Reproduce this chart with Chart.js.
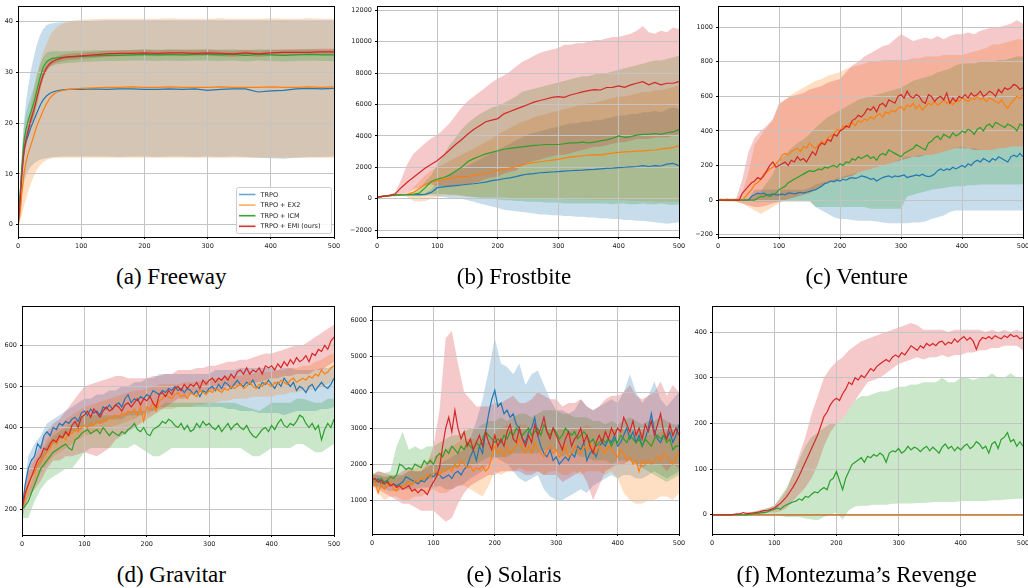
<!DOCTYPE html>
<html><head><meta charset="utf-8">
<script src="https://cdn.jsdelivr.net/npm/chart.js@4.4.1/dist/chart.umd.min.js"></script>
<style>
html,body{margin:0;padding:0;background:#fff;width:1028px;height:588px;overflow:hidden;position:relative;}
canvas{position:absolute;}
.cap{position:absolute;width:342.67px;text-align:center;font-family:"Liberation Serif","Times New Roman",serif;font-size:23px;line-height:23px;color:#000;white-space:nowrap;}
</style></head><body>
<script>
// ---------- shared categories ----------
const SERIES = ['TRPO','TRPO + EX2','TRPO + ICM','TRPO + EMI (ours)'];
const X5 = [0,5,10,15,20,25,30,35,40,45,50,55,60,65,70,75,80,85,90,95,100,105,110,115,120,125,130,135,140,145,150,155,160,165,170,175,180,185,190,195,200,205,210,215,220,225,230,235,240,245,250,255,260,265,270,275,280,285,290,295,300,305,310,315,320,325,330,335,340,345,350,355,360,365,370,375,380,385,390,395,400,405,410,415,420,425,430,435,440,445,450,455,460,465,470,475,480,485,490,495,500];
const X10 = [0,10,20,30,40,50,60,70,80,90,100,110,120,130,140,150,160,170,180,190,200,210,220,230,240,250,260,270,280,290,300,310,320,330,340,350,360,370,380,390,400,410,420,430,440,450,460,470,480,490,500];
const X_A = [0,2,4,6,8,10,13,16,20,25,30,35,40,45,50,55,60,70,80,90,100,120,140,160,180,200,220,240,260,280,300,320,340,360,380,400,420,440,460,480,500];
const X_TICKS = [0,100,200,300,400,500];
const fwTicks = [0,10,20,30,40];
const fbTicks = [-2000,0,2000,4000,6000,8000,10000,12000];
const vnTicks = [-200,0,200,400,600,800,1000];
const gvTicks = [200,300,400,500,600];
const slTicks = [1000,2000,3000,4000,5000,6000];
const mzTicks = [0,100,200,300,400];

// ---------- (a) Freeway ----------
const fwTRPO = [0,3,7,10.5,13,15,16.5,17.5,19,20.5,22,23.5,24.6,25.3,25.8,26.1,26.3,26.5,26.6,26.6,26.6, 26.7,26.6,26.7,26.7,26.6,26.6,26.7,26.6,26.7,26.4,26.6,26.7,26.7,26.1,26.3,26.4,26.7,26.8,26.7,26.8];
const fwEX2 = [0,1,3,6,8.5,10.5,12.5,14,15.5,17.5,19.5,21,22.5,23.8,24.8,25.5,26,26.4,26.6,26.7,26.8, 26.9,27,27,27.1,27,27,27.1,27,27,27,27.1,27,27,27,27.1,27,27,27.1,27,27.1];
const fwICM = [0,3,7,11,14.5,17,19,20.5,22,24,26.5,29,31,32,32.5,32.7,32.8,32.9,33,33,33.1, 33.2,33.3,33.3,33.4,33.5,33.4,33.5,33.4,33.5,33.5,33.4,33.5,33.3,33.5,33.4,33.3,33.4,33.5,33.4,33.4];
const fwEMI = [0,2.5,6,9.5,12.5,15,17,18.5,20.5,22.5,25,27.5,29.5,30.8,31.6,32.1,32.4,32.8,33,33.1,33.2, 33.4,33.6,33.7,33.7,33.8,33.7,33.8,33.8,33.7,33.8,33.7,33.6,33.8,33.6,33.8,33.9,33.9,33.9,34,34];
const fwTRPOlo = [0,1.5,3.5,5.5,7,8.5,9.8,10.6,11.4,12,12.5,12.8,13,13.1,13.2,13.3,13.3,13.4,13.4,13.4,13.4, 13.4,13.4,13.3,13.4,13.4,13.3,13.4,13.4,13.3,13.4,13.3,13.4,13.3,13.2,13.1,13.0,13.2,13.3,13.3,13.4];
const fwTRPOhi = [0,5,10,14,18,21,24.5,27,30,33,35.5,37.3,38.5,39.2,39.5,39.6,39.7,39.8,39.8,39.9,40, 40.1,40.2,40.2,40.2,40.2,40.2,40.2,40.2,40.2,40.2,40.2,40.2,40.2,40.2,40.2,40.2,40.2,40.2,40.2,40.2];
const fwEX2lo = [0,0,1,2,3,4,5,6.5,8,9.5,10.8,11.7,12.3,12.7,13,13.1,13.2,13.2,13.2,13.2,13.2, 13.2,13.2,13.2,13.2,13.2,13.2,13.2,13.2,13.2,13.2,13.2,13.2,13.2,13.2,13.2,13.2,13.2,13.2,13.2,13.2];
const fwEX2hi = [0,2,5,8,11,14,17,20,23,26.5,29.5,32,34,35.5,37,38,38.7,39.5,40,40.2,40.3, 40.4,40.5,40.5,40.5,40.5,40.5,40.6,40.5,40.5,40.5,40.6,40.5,40.5,40.5,40.6,40.5,40.5,40.6,40.5,40.5];
const fwICMlo = [0,1,5,9,12,14,16,17.5,19,21,23.5,26.5,29,30.3,31,31.3,31.5,31.7,31.8,31.9,32, 32.1,32.2,32.2,32.3,32.3,32.2,32.3,32.2,32.3,32.3,32.2,32.3,32.1,32.3,32.2,32.1,32.2,32.3,32.2,32.2];
const fwICMhi = [0,5,9,13,17,20,22,23.5,25,27,29.5,31.5,33,33.8,34,34.1,34.1,34.1,34.1,34.2,34.2, 34.3,34.3,34.3,34.4,34.5,34.4,34.5,34.4,34.5,34.5,34.4,34.5,34.3,34.5,34.4,34.3,34.4,34.5,34.4,34.4];
const fwEMIlo = [0,1.5,4.5,8,11,13.5,15.5,17.2,19.3,21.5,24,26.5,28.7,30.1,31,31.5,31.8,32.2,32.4,32.5,32.6, 32.8,33,33.1,33.1,33.2,33.1,33.2,33.2,33.1,33.2,33.1,33,33.2,33,33.2,33.3,33.3,33.3,33.4,33.4];
const fwEMIhi = [0,3.5,7.5,11,14,16.5,18.5,19.8,21.7,23.5,26,28.5,30.3,31.5,32.2,32.7,33,33.4,33.6,33.7,33.8, 34,34.2,34.3,34.3,34.4,34.3,34.4,34.4,34.3,34.4,34.3,34.2,34.4,34.2,34.4,34.5,34.5,34.5,34.6,34.6];

// ---------- (b) Frostbite ----------
const fbTRPO = [100,150,200,220,240,250,250,260,270,400, 700,750,800,830,870,920,950,1000,1050,1150, 1200,1270,1330,1400,1500,1570,1600,1650,1680,1700, 1720,1750,1780,1800,1820,1850,1870,1900,1930,1950, 1980,2000,2030,2050,2100,2050,2100,2080,2200,2250,2100];
const fbEX2 = [100,150,200,230,250,270,400,650,900,1050, 1150,1230,1300,1350,1400,1420,1480,1550,1620,1700, 1800,1880,1950,2050,2150,2250,2300,2350,2400,2450, 2500,2580,2650,2700,2720,2780,2800,2780,2850,2900, 2950,2980,3000,3030,3050,3080,3100,3150,3200,3250,3380];
const fbICM = [100,150,200,230,250,260,280,350,700,1100, 1250,1350,1500,1750,2000,2350,2550,2700,2850,2950, 3050,3150,3200,3250,3300,3350,3400,3420,3450,3450, 3450,3500,3550,3550,3600,3550,3600,3680,3750,3850, 4000,3900,3950,4050,4100,4100,4150,4100,4200,4250,4400];
const fbEMI = [100,150,200,300,700,1050,1350,1650,1950,2200, 2430,2750,3100,3450,3750,4100,4400,4650,4900,5000, 5100,5400,5550,5700,5850,6000,6150,6250,6350,6450, 6500,6450,6600,6700,6800,6880,6950,6920,7080,7090, 7180,7090,7250,7350,7450,7250,7400,7250,7350,7350,7450];
const fbTRPOlo = [50,100,150,160,180,200,200,210,210,200, 150,100,50,0,0,-100,-200,-300,-400,-500, -600,-700,-750,-800,-850,-900,-950,-1000,-1000,-1050, -1050,-1100,-1100,-1150,-1150,-1200,-1200,-1250,-1250,-1300, -1300,-1350,-1350,-1400,-1400,-1450,-1500,-1550,-1600,-1550,-1500];
const fbTRPOhi = [150,200,250,280,300,300,300,310,330,600, 1100,1300,1500,1700,1900,2100,2300,2500,2700,2900, 3100,3300,3500,3700,3900,4100,4200,4300,4400,4500, 4600,4700,4800,4800,4900,4900,5000,5000,5100,5200, 5300,5300,5400,5400,5500,5500,5600,5500,5700,5800,5700];
const fbEX2lo = [50,100,150,180,200,100,-150,-200,-150,0, 100,200,200,200,150,100,100,100,100,100, 100,100,50,50,50,50,0,0,0,0, 0,-50,-50,-50,-50,-50,-100,-100,-100,-100, -100,-100,-150,-150,-150,-150,-200,-200,-200,-200,-200];
const fbEX2hi = [150,200,250,280,300,400,700,1100,1500,1800, 2000,2200,2400,2600,2800,3000,3200,3400,3600,3800, 4100,4300,4500,4700,4900,5000,5200,5300,5400,5500, 5600,5700,5800,5900,6000,6100,6100,6200,6300,6400, 6500,6500,6600,6700,6800,6800,6900,6900,7000,7100,7200];
const fbICMlo = [50,100,150,180,200,200,150,150,200,300, 300,300,250,250,200,150,100,50,0,0, -50,-100,-100,-150,-150,-200,-200,-200,-250,-250, -250,-300,-300,-300,-300,-300,-300,-300,-300,-350, -300,-300,-350,-350,-300,-350,-350,-300,-350,-400,-350];
const fbICMhi = [150,200,250,280,300,320,400,600,1100,1500, 2200,2800,3400,3900,4400,4800,5100,5400,5600,5800, 5900,6100,6300,6500,6800,6900,7000,7100,7200,7300, 7400,7500,7600,7700,7800,7800,7900,8000,8000,8100, 8200,8300,8400,8500,8600,8700,8800,8800,8900,9000,9100];
const fbEMIlo = [50,100,150,150,300,400,600,700,850,900, 800,800,800,800,850,900,1000,1100,1250,1350, 1400,1600,1700,1800,2100,2300,2400,2500,2600,2700, 2800,2800,2900,3000,3100,3200,3300,3300,3400,3500, 3600,3600,3700,3800,3800,3800,3900,3900,3900,4000,4100];
const fbEMIhi = [150,200,260,400,1200,2200,2850,3200,3550,3850, 4050,4400,4800,5300,5800,6200,6500,6800,7100,7400, 7650,7850,8100,8400,8700,8900,9100,9300,9400,9500, 9600,9800,9800,9900,9900,10000,10100,10100,10200,10300, 10300,10400,10500,10700,11000,10600,10500,10700,10600,10900,10800];

// ---------- (c) Venture ----------
const vnTRPO = [0,0,0,0,0,0,0,0,0,0, 0,20,30,40,35,40,30,30,35,30, 30,35,30,40,40,35,40,45,40,45, 50,55,60,70,80,95,100,110,105,115, 110,120,115,125,130,125,130,140,135,130, 120,125,110,120,130,135,140,130,140,135, 140,145,130,135,140,145,140,150,140,135, 140,150,170,180,170,180,175,190,180,190, 200,190,210,200,220,230,220,240,230,220, 240,230,250,240,230,220,250,260,250,270, 250];
const vnEX2 = [0,5,0,5,0,0,0,0,0,20, 40,60,90,100,120,150,160,180,190,210, 230,260,270,260,280,290,300,280,310,300, 330,310,300,320,340,330,360,370,380,410, 400,430,420,440,450,430,460,450,470,460, 480,470,490,500,480,510,500,520,510,530, 540,520,550,540,560,530,550,520,540,560, 550,570,550,560,580,560,570,550,580,570, 590,580,570,590,580,600,580,590,570,590, 580,570,560,580,550,530,560,580,600,590, 610];
const vnICM = [0,0,0,0,0,0,0,0,0,0, 0,0,0,10,20,20,30,20,30,40, 60,70,80,100,110,120,130,140,150,160, 170,165,170,180,175,190,185,195,200,190, 210,200,220,215,240,230,250,240,250,260, 240,250,230,260,270,260,290,280,270,260, 250,270,280,290,300,320,310,300,290,330, 340,360,370,350,380,370,360,390,370,380, 400,390,410,400,380,410,420,400,430,440, 420,450,440,430,420,440,430,420,400,440, 430];
const vnEMI = [0,0,0,0,0,0,0,0,40,60, 80,100,110,130,120,140,170,200,220,190, 200,210,220,200,230,220,250,230,240,220, 250,280,260,310,330,320,350,340,380,370, 400,410,430,420,460,470,490,480,500,530, 520,540,510,550,560,540,580,570,560,600, 610,590,630,600,590,610,600,570,560,610, 600,570,590,600,580,620,560,590,570,600, 590,610,590,620,600,610,630,600,610,630, 620,600,640,620,650,640,650,670,660,640, 650];
const vnTRPOlo = [0,0,0,0,0,0,0,0,0,0, 0,0,0,0,0,0,-40,-60,-80,-100, -110,-110,-115,-120,-120,-120,-125,-130,-135,-135, -135,-135,-130,-130,-125,-110,-100,-90,-70,-60, -60,-60,-60,-60,-60,-60,-60,-60,-60,-60,-60];
const vnTRPOhi = [0,0,0,0,0,10,60,60,60,60, 60,60,60,60,60,70,90,100,110,120, 130,140,150,160,170,180,190,200,210,220, 240,250,250,260,260,260,270,280,290,300, 310,300,300,290,290,290,300,300,310,310,310];
const vnEX2lo = [0,-10,-10,-10,-20,-40,-60,-80,-60,-40, -20,0,10,20,30,40,60,80,100,110, 120,130,140,160,170,180,190,200,210,220, 230,240,250,250,260,260,270,280,290,300, 300,300,290,290,290,290,300,300,310,310,310];
const vnEX2hi = [0,10,10,10,40,160,320,370,420,460, 550,580,610,630,650,670,690,700,720,730, 740,760,770,780,790,800,800,810,810,810, 810,810,820,820,830,830,830,840,840,840, 840,850,860,870,880,900,900,910,920,930,930];
const vnICMlo = [0,0,0,0,0,0,-10,-10,-10,-10, -10,-10,-10,-10,-10,-10,-40,-40,-40,-40, -40,-40,-40,-40,-40,-50,-50,-50,-50,-50, -50,20,30,40,50,60,65,70,75,80, 80,85,85,90,90,90,90,90,90,90,90];
const vnICMhi = [0,0,0,0,0,0,20,50,100,150, 230,260,300,330,350,380,420,450,480,500, 520,540,560,580,590,600,610,620,630,640, 650,670,690,700,710,720,740,750,760,780, 790,790,790,800,800,800,810,810,820,830,830];
const vnEMIlo = [0,0,0,-10,-20,-30,-40,-40,-30,-20, -10,0,10,20,30,40,60,80,100,110, 120,130,140,160,170,180,190,200,210,220, 230,240,250,250,260,260,270,280,290,300, 300,300,290,290,290,290,300,300,310,310,310];
const vnEMIhi = [0,0,0,10,120,280,360,400,430,470, 560,580,600,610,620,640,650,660,680,690, 700,740,780,800,830,850,870,890,900,930, 960,940,920,930,940,930,950,930,950,960, 960,970,960,980,990,1000,1000,1010,1020,1040,1020];

// ---------- (d) Gravitar ----------
const gvTRPO = [200,260,300,320,330,360,350,380,390,380, 400,395,410,405,415,410,420,425,415,435, 440,430,445,435,440,430,450,445,455,445, 455,460,450,470,480,460,470,465,475,470, 480,475,490,485,480,490,485,495,490,500, 490,495,485,495,490,480,490,475,490,485, 495,500,490,505,495,510,505,495,505,515, 505,500,510,505,515,500,495,510,505,515, 505,495,510,500,520,510,500,510,490,500, 495,485,500,505,490,500,510,500,495,505, 520];
const gvEX2 = [200,230,260,280,290,310,320,330,340,350, 370,360,375,380,370,390,385,395,390,400, 405,400,410,405,415,410,420,415,425,420, 430,425,435,430,440,435,445,430,450,415, 450,445,460,440,465,470,480,475,470,480, 485,475,480,470,485,480,475,490,485,480, 490,485,495,490,485,495,490,500,495,500, 505,495,500,510,500,495,505,500,510,505, 500,510,505,515,510,505,515,520,510,515, 520,515,525,520,530,525,540,530,535,545, 550];
const gvICM = [200,210,220,240,260,280,300,310,320,330, 340,345,350,355,360,350,345,370,375,385, 390,395,385,390,395,385,400,390,380,390, 385,380,390,385,395,400,410,395,390,400, 385,380,395,400,405,415,410,420,415,405, 400,410,395,405,390,395,410,400,415,405, 410,400,395,405,390,400,410,395,405,410, 400,395,405,390,380,375,385,395,400,390, 405,395,410,420,405,400,410,405,415,430, 425,410,400,410,395,405,370,395,410,400, 420];
const gvEMI = [200,240,260,280,300,320,330,350,345,360, 370,365,380,375,390,380,405,415,400,425, 430,440,425,445,435,425,440,450,440,445, 455,450,440,455,460,450,460,470,455,470, 465,475,460,450,480,485,475,490,480,495, 500,490,505,495,505,500,510,495,515,505, 515,520,510,520,515,525,515,530,520,535, 540,530,545,530,540,535,545,530,550,545, 550,540,555,545,560,550,565,555,570,560, 565,575,560,580,575,590,585,600,590,610, 620];
const gvTRPOlo = [190,260,290,310,340,360,370,380,390,390, 400,400,410,410,420,420,420,430,430,430, 440,440,450,450,450,450,450,450,450,450, 450,450,450,445,445,440,440,440,435,435, 435,435,430,435,440,440,440,440,445,445,450];
const gvTRPOhi = [210,330,360,380,410,420,430,440,450,460, 470,470,480,480,490,490,500,500,510,510, 520,520,530,530,530,530,530,530,530,530, 530,540,540,540,540,545,545,545,545,545, 545,540,545,545,540,540,540,540,545,545,550];
const gvEX2lo = [190,230,260,290,310,330,340,350,360,370, 380,385,390,395,400,405,410,415,420,430, 430,440,445,445,445,450,450,450,455,455, 460,460,465,465,470,470,470,475,475,475, 475,480,480,485,485,490,490,495,500,505,515];
const gvEX2hi = [210,290,320,340,370,390,400,420,430,440, 450,455,460,465,470,475,480,485,490,490, 495,500,505,505,505,505,510,510,510,515, 515,520,520,525,525,525,530,530,535,535, 535,540,540,545,545,550,550,560,565,575,580];
const gvICMlo = [180,180,220,250,270,280,290,300,300,320, 340,350,350,350,350,350,350,350,360,350, 340,330,330,340,350,350,350,350,350,350, 350,350,350,350,350,350,340,330,330,340, 350,350,350,350,360,360,350,340,340,350,360];
const gvICMhi = [210,250,290,330,360,380,390,400,410,420, 430,430,430,430,430,430,430,440,440,440, 440,450,450,460,460,460,460,460,460,460, 460,460,460,460,460,455,450,445,440,450, 460,460,460,460,470,470,465,460,460,470,470];
const gvEMIlo = [180,230,250,270,300,320,320,330,330,335, 340,335,330,340,350,370,380,390,400,410, 420,430,440,450,460,470,470,480,480,490, 490,490,490,500,500,500,510,510,510,515, 520,520,525,525,530,530,530,540,540,550,560];
const gvEMIhi = [220,300,330,360,390,410,420,440,460,480, 500,505,510,515,520,525,525,520,520,520, 520,525,525,530,530,540,540,540,545,545, 550,550,555,560,560,565,565,570,575,580, 580,585,590,595,600,600,610,620,630,640,650];

// ---------- (e) Solaris ----------
const slTRPO = [1550,1500,1600,1450,1500,1550,1400,1450,1400,1450, 1500,1650,1600,1550,1500,1450,1550,1500,1600,1700, 1650,1750,1700,1600,1650,1700,1600,1750,1800,1700, 1850,1950,2200,2400,2100,2500,2300,2900,3400,3800, 4050,3600,3700,3400,3500,3300,3400,3100,3000,2700, 2600,2900,3000,3300,2800,2500,2300,2200,2400,2100, 2200,2000,2100,2200,2100,2300,2200,2500,2400,2600, 2100,2300,2400,2200,2500,2600,2500,2700,2600,2800, 2500,2600,2800,3000,2700,2900,2600,2800,2500,2700, 3000,3400,2900,2700,2600,2800,2700,2900,2600,2800, 3100];
const slEX2 = [1600,1500,1200,1450,1300,1400,1500,1300,1250,1400, 1350,1450,1500,1400,1550,1500,1600,1550,1700,1650, 1750,1800,1700,1850,1800,1900,1800,2000,1900,2100, 2000,1900,1950,1800,1900,1850,1950,1800,1900,2200, 2500,2300,2400,2200,2500,2300,2400,2500,2700,2400, 2300,2500,2300,2600,2400,2300,2200,2400,2500,2300, 2400,2200,2300,2500,2200,2300,2500,2400,2300,2500, 2400,2600,2400,2300,2500,2400,2300,2500,2400,2300, 2200,2400,2300,2100,2200,2000,2100,1800,2100,2000, 2100,2000,2100,2200,2100,2300,2200,2100,2000,2200, 2300];
const slICM = [1550,1600,1500,1600,1500,1550,1650,1600,1700,2000, 1950,1850,1900,1850,2000,1950,1900,2100,2000,2100, 2000,2200,2300,2200,2400,2300,2500,2400,2300,2500, 2400,2600,2500,2400,2600,2500,2700,2900,2800,2700, 2600,2700,2600,2800,2700,2900,2800,3000,2900,2800, 2900,3000,2800,2900,3000,2800,3100,2900,2800,3000, 2900,2700,2800,3000,2900,2800,2900,2700,2800,2900, 2800,2600,2700,2500,2600,2700,2600,2700,2500,2700, 2600,2800,2700,2600,2800,2700,2600,2700,2500,2700, 2600,2500,2700,2800,2700,2800,2600,2700,2400,2500, 2500];
const slEMI = [1550,1600,1500,1550,1450,1500,1400,1450,1350,1400, 1300,1350,1400,1250,1300,1200,1300,1250,1150,1350, 1500,1650,1900,2500,3000,3300,2900,3500,3000,2700, 2900,2500,2700,2400,2600,2800,2500,2900,2600,2400, 2800,2500,2700,2500,2900,3100,2700,2600,3000,2700, 2500,2800,2600,3100,2800,3000,3300,2900,2700,3000, 2800,2600,2400,2700,2900,2500,2700,2800,3000,2600, 2800,2500,2300,2600,2800,2600,2900,2700,3000,2800, 3000,2900,3300,3100,2900,3200,2800,3000,2700,3100, 2900,3200,2800,3100,3400,2900,2700,3100,2800,3000, 2800];
const slTRPOlo = [1400,1350,1300,1250,1250,1300,1300,1300,1350,1350, 1350,1400,1300,1300,1400,1450,1600,1700,1800,2000, 2200,2100,2000,1800,1600,1500,1600,1700,1300,1100, 1000,1000,1100,1200,1300,1200,1400,1500,1600,1700, 1600,1700,1700,1600,1600,1700,1800,1700,1600,1700,1800];
const slTRPOhi = [1700,1700,1650,1650,1700,1700,1800,1800,1800,1900, 2000,2000,2100,2200,2300,2400,2700,3200,3800,4600, 5500,4800,4700,4500,4800,4200,4500,4600,4200,3800, 3500,3500,3400,3500,3800,3600,3500,3600,3700,3800, 3700,4000,4500,4000,3700,3900,4300,3800,3600,3800,4000];
const slEX2lo = [1400,1200,1000,1100,1100,1000,1000,1100,1100,1200, 1300,1200,1200,1300,1400,1400,1300,1200,1100,1400, 1800,1700,1800,1800,1900,1800,1800,1800,1700,1800, 1800,1700,1700,1800,1700,1800,1800,1800,1700,1800, 1600,1200,1000,900,900,1000,1000,1100,1100,1000,1200];
const slEX2hi = [1750,1700,1650,1700,1600,1700,1800,1900,2000,2100, 2200,2300,2400,2500,2600,2700,2700,2700,2600,2600, 2900,3000,3100,3000,3100,3100,3000,3000,3000,3000, 3000,3000,2900,3000,3000,3100,3000,3000,3000,3000, 3000,3000,2900,2900,2900,2800,2800,2900,2900,2800,2900];
const slICMlo = [1400,1400,1300,1400,1400,1400,1400,1500,1500,1600, 1600,1700,1800,1900,1900,2000,2000,2000,2100,2200, 2200,2200,2200,2300,2300,2300,2300,2300,2400,2400, 2400,2200,2300,2300,2200,2200,2100,2100,2100,2000, 2100,2100,2100,2000,1900,1800,1700,1600,1500,1600,1700];
const slICMhi = [1700,1800,1750,1800,2500,2900,2400,2500,2400,2500, 2500,2600,2700,2800,2800,2900,3000,3000,3100,3200, 3200,3300,3200,3300,3400,3400,3300,3400,3500,3500, 3500,3400,3400,3300,3300,3300,3200,3200,3100,3200, 3100,3200,3300,3200,3100,3200,3200,3300,3200,3100,3100];
const slEMIlo = [1400,1300,1200,1100,1000,900,900,800,700,700, 700,550,400,500,900,1200,1400,1500,1600,1700, 1700,1800,1800,1800,1800,1700,1700,1800,1700,1700, 1700,1500,1600,1700,1800,1500,1000,1400,1800,1900, 2000,2000,2100,2000,1900,2000,2000,2000,1800,2000,1900];
const slEMIhi = [1700,1800,1750,1700,1700,1800,1900,1800,1800,2000, 2500,3500,5500,5700,4800,4000,3800,3600,3600,3600, 3700,3700,3800,3900,3700,3700,3800,4000,3900,3800, 3800,3600,3700,3700,3800,3600,3500,3600,3800,3900, 3900,4000,4200,3900,3800,3900,4000,4300,3900,4200,4000];

// ---------- (f) Montezuma's Revenge ----------
const mzTRPO = [0,0,0,0,0,0,0,0,0,0, 0,0,0,0,0,0,0,0,0,0, 0,0,0,0,0,0,0,0,0,0, 0,0,0,0,0,0,0,0,0,0, 0,0,0,0,0,0,0,0,0,0,0];
const mzEX2 = [0,0,0,0,0,0,0,0,0,0, 0,0,0,0,0,0,0,0,0,0, 0,0,0,0,0,0,0,0,0,0, 0,0,0,0,0,0,0,0,0,0, 0,0,0,0,0,0,0,0,0,0,0];
const mzICM = [0,0,0,0,0,0,0,0,0,0, 0,0,1,2,3,3,5,5,7,10, 12,15,12,18,22,25,28,30,35,32, 40,38,45,50,48,55,60,55,75,80, 95,75,55,80,95,110,115,120,125,115, 128,125,132,128,135,130,115,135,140,138, 145,135,140,150,142,148,145,138,145,150, 140,148,142,135,148,155,145,150,140,148, 142,150,155,145,150,160,155,145,150,135, 155,160,145,165,170,180,160,165,150,160, 150];
const mzEMI = [0,0,0,0,0,0,0,1,2,2, 5,3,3,4,5,6,8,9,10,12, 15,20,25,32,40,50,60,72,85,100, 115,130,145,160,175,195,215,225,240,250, 255,250,265,275,290,285,300,295,305,300, 310,320,315,325,330,335,340,335,345,350, 345,355,350,360,370,365,360,370,365,375, 370,375,370,378,380,372,378,375,385,378, 385,390,382,388,380,362,380,388,385,390, 385,392,388,385,392,388,395,390,392,385, 388];
const mzICMlo = [0,0,0,0,0,0,0,0,0,0, 0,-2,-5,-5,-5,-8,-10,-12,-5,0, 5,-10,10,18,20,20,22,22,22,24, 25,25,25,26,26,27,28,28,28,28, 30,30,30,30,30,32,32,33,34,35,35];
const mzICMhi = [0,0,0,0,0,2,5,8,12,15, 20,40,60,90,120,150,170,180,190,200, 200,210,230,250,260,260,265,270,270,275, 280,280,285,285,290,290,290,300,290,290, 300,300,295,300,300,310,300,300,310,300,300];
const mzEMIlo = [0,0,0,0,0,0,0,0,2,5, 5,8,15,30,45,60,80,110,150,180, 200,210,230,250,270,290,295,300,310,320, 330,335,340,345,340,345,345,350,345,350, 350,355,355,360,360,365,365,370,370,370,360];
const mzEMIhi = [0,0,0,0,2,3,5,8,10,15, 20,35,55,90,130,170,220,260,300,320, 335,345,360,370,380,385,390,395,400,405, 410,415,420,415,405,405,405,405,400,405, 405,405,405,405,400,405,400,405,400,405,400];

// ---------- styling / layout ----------
const COLORS = ['#1f77b4','#ff7f0e','#2ca02c','#d62728'];
const PADT = 10, PADR = 12, XH = 18;
const W3 = 1028/3;
const PANELS = [
  {caption:'(a) Freeway', xm:[X_A,X_A,X_A,X_A], xb:X_A, means:[fwTRPO,fwEX2,fwICM,fwEMI],
   lows:[fwTRPOlo,fwEX2lo,fwICMlo,fwEMIlo], highs:[fwTRPOhi,fwEX2hi,fwICMhi,fwEMIhi],
   yr:[-2.4,43], yt:fwTicks, box:[18,6,334,237], legend:true, col:0, capTop:264.5},
  {caption:'(b) Frostbite', xm:[X10,X10,X10,X10], xb:X10, means:[fbTRPO,fbEX2,fbICM,fbEMI],
   lows:[fbTRPOlo,fbEX2lo,fbICMlo,fbEMIlo], highs:[fbTRPOhi,fbEX2hi,fbICMhi,fbEMIhi],
   yr:[-2440,12270], yt:fbTicks, box:[377,6,679,237], col:1, capTop:264.5},
  {caption:'(c) Venture', xm:[X5,X5,X5,X5], xb:X10, means:[vnTRPO,vnEX2,vnICM,vnEMI],
   lows:[vnTRPOlo,vnEX2lo,vnICMlo,vnEMIlo], highs:[vnTRPOhi,vnEX2hi,vnICMhi,vnEMIhi],
   yr:[-214,1123], yt:vnTicks, box:[718,6,1023,237], col:2, capTop:264.5},
  {caption:'(d) Gravitar', xm:[X5,X5,X5,X5], xb:X10, means:[gvTRPO,gvEX2,gvICM,gvEMI],
   lows:[gvTRPOlo,gvEX2lo,gvICMlo,gvEMIlo], highs:[gvTRPOhi,gvEX2hi,gvICMhi,gvEMIhi],
   yr:[138.6,695.5], yt:gvTicks, box:[22,306,334,535], col:0, capTop:562.5},
  {caption:'(e) Solaris', xm:[X5,X5,X5,X5], xb:X10, means:[slTRPO,slEX2,slICM,slEMI],
   lows:[slTRPOlo,slEX2lo,slICMlo,slEMIlo], highs:[slTRPOhi,slEX2hi,slICMhi,slEMIhi],
   yr:[57,6396], yt:slTicks, box:[372,306,679,534], col:1, capTop:562.5},
  {caption:'(f) Montezuma\u2019s Revenge', xm:[X10,X10,X5,X5], xb:X10, means:[mzTRPO,mzEX2,mzICM,mzEMI],
   lows:[null,null,mzICMlo,mzEMIlo], highs:[null,null,mzICMhi,mzEMIhi],
   yr:[-42,457], yt:mzTicks, box:[712,306,1023,534], col:2, capTop:562.5}
];

function rgba(hex,a){const n=parseInt(hex.slice(1),16);return 'rgba('+(n>>16)+','+((n>>8)&255)+','+(n&255)+','+a+')';}
function fmt(v){ if(Math.abs(v)<1e-9) return '0'; return String(v).replace('-','\u2212'); }
function pts(xs,ys){ return ys.map((y,i)=>({x:xs[i],y:y})); }

const framePlugin = {
  id:'frame',
  afterDatasetsDraw(chart){
    const a = chart.chartArea, ctx = chart.ctx;
    ctx.save(); ctx.strokeStyle='#000'; ctx.lineWidth=1;
    const l=Math.round(a.left)+0.5, t=Math.round(a.top)+0.5, r=Math.round(a.right)+0.5, b=Math.round(a.bottom)+0.5;
    ctx.strokeRect(l,t,r-l,b-t);
    ctx.restore();
  }
};
const legendPlugin = {
  id:'insetLegend',
  afterDraw(chart, args, opts){
    if(!opts || !opts.show) return;
    const a = chart.chartArea, ctx = chart.ctx;
    const w=95, h=46, x=Math.round(a.right)-w-3+0.5, y=Math.round(a.bottom)-h-4+0.5;
    ctx.save();
    ctx.fillStyle='rgba(255,255,255,0.85)'; ctx.strokeStyle='#cccccc'; ctx.lineWidth=1;
    ctx.beginPath();
    const rr=2;
    ctx.moveTo(x+rr,y); ctx.lineTo(x+w-rr,y); ctx.quadraticCurveTo(x+w,y,x+w,y+rr);
    ctx.lineTo(x+w,y+h-rr); ctx.quadraticCurveTo(x+w,y+h,x+w-rr,y+h);
    ctx.lineTo(x+rr,y+h); ctx.quadraticCurveTo(x,y+h,x,y+h-rr);
    ctx.lineTo(x,y+rr); ctx.quadraticCurveTo(x,y,x+rr,y); ctx.closePath();
    ctx.fill(); ctx.stroke();
    ctx.font='6.5px "DejaVu Sans"'; ctx.textBaseline='middle'; ctx.fillStyle='#222';
    for(let i=0;i<SERIES.length;i++){
      const yy = y + 7 + i*10.6;
      ctx.strokeStyle = rgba(COLORS[i], i<2?0.65:0.95); ctx.lineWidth=1.6;
      ctx.beginPath(); ctx.moveTo(x+2.5,yy); ctx.lineTo(x+19,yy); ctx.stroke();
      ctx.fillText(SERIES[i], x+24, yy+0.5);
    }
    ctx.restore();
  }
};

PANELS.forEach((p)=>{
  const [L,T,R,B] = p.box;
  const YW = Math.min(40, L);
  const cw = (R-L)+YW+PADR, ch = (B-T)+PADT+XH;
  const cv = document.createElement('canvas');
  cv.width = cw; cv.height = ch;
  cv.style.left = (L-YW)+'px'; cv.style.top = (T-PADT)+'px';
  cv.style.width = cw+'px'; cv.style.height = ch+'px';
  document.body.appendChild(cv);

  // index 0 is an empty placeholder so that no band ever targets dataset 0
  const ds = [{data:[], borderColor:'rgba(0,0,0,0)', borderWidth:0, pointRadius:0, fill:false}];
  for (const i of [3,2,1,0]) {
    if (!p.lows[i]) continue;
    ds.push({data:pts(p.xb,p.lows[i]), borderColor:'rgba(0,0,0,0)', borderWidth:0, pointRadius:0, fill:false});
    ds.push({data:pts(p.xb,p.highs[i]), borderColor:'rgba(0,0,0,0)', borderWidth:0, pointRadius:0, fill:'-1', backgroundColor:rgba(COLORS[i],0.25)});
  }
  for (const i of [3,2,1,0]) {
    ds.push({data:pts(p.xm[i],p.means[i]), borderColor:COLORS[i], borderWidth:1.2, pointRadius:0, fill:false});
  }
  const tickFont = {family:'DejaVu Sans', size:6.5};
  new Chart(cv, {
    type:'line',
    data:{datasets:ds},
    options:{
      responsive:false, animation:false, events:[],
      layout:{padding:{left:0, top:PADT, right:PADR, bottom:0}},
      elements:{line:{tension:0}, point:{radius:0}},
      plugins:{legend:{display:false}, tooltip:{enabled:false}, filler:{drawTime:'beforeDraw', propagate:false},
               insetLegend:{show:!!p.legend}},
      scales:{
        x:{type:'linear', min:0, max:500,
           afterBuildTicks:(s)=>{ s.ticks = X_TICKS.map(v=>({value:v})); },
           afterFit:(s)=>{ s.height = XH; },
           ticks:{font:tickFont, color:'#222', padding:3, maxRotation:0, autoSkip:false, callback:(v)=>fmt(v)},
           grid:{color:'#c4c4c4', lineWidth:1, tickLength:2, tickColor:'#000', drawTicks:true},
           border:{display:false}},
        y:{type:'linear', min:p.yr[0], max:p.yr[1],
           afterBuildTicks:(s)=>{ s.ticks = p.yt.map(v=>({value:v})); },
           afterFit:(s)=>{ s.width = YW; },
           ticks:{font:tickFont, color:'#222', padding:3, autoSkip:false, callback:(v)=>fmt(v)},
           grid:{color:'#c4c4c4', lineWidth:1, tickLength:2, tickColor:'#000', drawTicks:true},
           border:{display:false}}
      }
    },
    plugins:[framePlugin, legendPlugin]
  });

  const cap = document.createElement('div');
  cap.className = 'cap';
  cap.textContent = p.caption;
  cap.style.left = (p.col*W3)+'px';
  cap.style.top = p.capTop+'px';
  document.body.appendChild(cap);
});
</script>
</body></html>
